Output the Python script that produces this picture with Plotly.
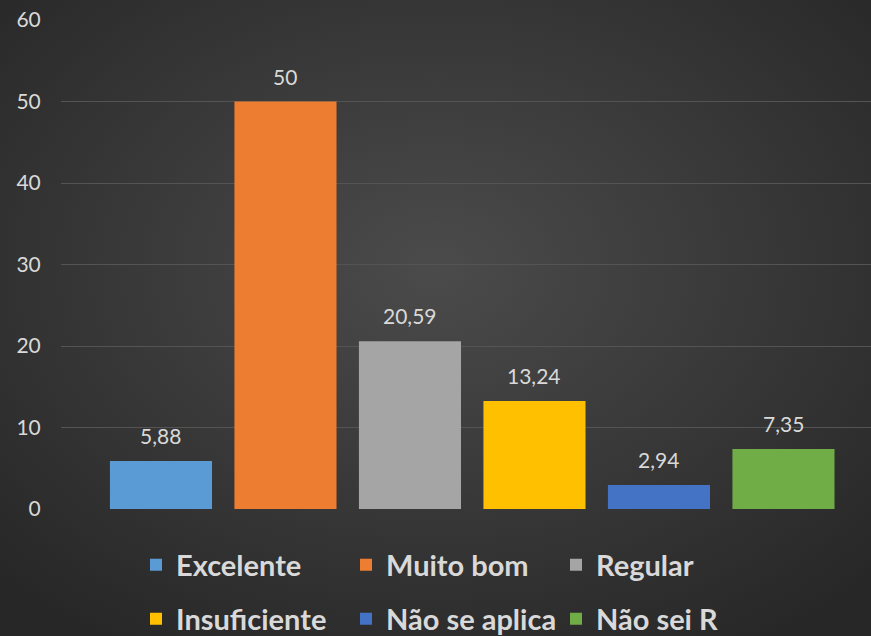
import base64
import plotly.graph_objects as go

categories = ["Excelente", "Muito bom", "Regular", "Insuficiente", "Não se aplica", "Não sei R"]
values = [5.88, 50, 20.59, 13.24, 2.94, 7.35]
colors = ["#5b9bd5", "#ed7d31", "#a5a5a5", "#ffc000", "#4472c4", "#70ad47"]
y_ticks = [0, 10, 20, 30, 40, 50, 60]

W, H = 871, 636
ML, MR, MT, MB = 61, 0, 20, 127
pw, ph = W - ML - MR, H - MT - MB

def fmt(v):
    s = f"{v:.2f}".rstrip("0").rstrip(".")
    return s.replace(".", ",")

fig = go.Figure()
for i, (c, v, col) in enumerate(zip(categories, values, colors)):
    fig.add_trace(go.Bar(
        x=[i], y=[v], name=c, width=0.82,
        marker=dict(color=col, line=dict(width=0)),
        legend="legend" if i < 3 else "legend2",
        hoverinfo="skip",
    ))
    fig.add_annotation(x=i, y=v, text=fmt(v), showarrow=False, yanchor="bottom",
                       yshift=11, font=dict(family="Lato", size=21, color="#d9d9d9"))

svg = f'''<svg xmlns="http://www.w3.org/2000/svg" width="{W}" height="{H}" viewBox="0 0 {W} {H}" preserveAspectRatio="none">
<defs><radialGradient id="g" cx="50%" cy="42%" r="70%">
<stop offset="0" stop-color="#4b4b4b"/><stop offset="1" stop-color="#272727"/></radialGradient></defs>
<rect width="{W}" height="{H}" fill="url(#g)"/></svg>'''
src = "data:image/svg+xml;base64," + base64.b64encode(svg.encode()).decode()

fig.add_layout_image(dict(source=src, xref="paper", yref="paper",
                          x=-ML / pw, y=1 + MT / ph, sizex=W / pw, sizey=H / ph,
                          xanchor="left", yanchor="top", sizing="stretch", layer="below"))

legend_common = dict(orientation="h", xanchor="left", yanchor="middle",
                     xref="container", yref="container",
                     font=dict(family="Lato", size=29, color="#d9d9d9", weight="bold"),
                     bgcolor="rgba(0,0,0,0)", entrywidth=165, entrywidthmode="pixels",
                     itemwidth=30, traceorder="normal")

fig.update_layout(
    width=W, height=H,
    margin=dict(l=ML, r=MR, t=MT, b=MB, autoexpand=False),
    paper_bgcolor="#2e2e2e", plot_bgcolor="rgba(0,0,0,0)",
    barmode="overlay",
    showlegend=True,
    legend=dict(x=136 / W, y=1 - 565 / H, **legend_common),
    legend2=dict(x=136 / W, y=1 - 619 / H, **legend_common),
    xaxis=dict(range=[-0.803, 5.703], showticklabels=False, showgrid=False,
               zeroline=False, fixedrange=True),
    yaxis=dict(range=[0, 60], tickvals=y_ticks, showgrid=True, gridcolor="#545454",
               gridwidth=1, zeroline=False, ticks="outside", ticklen=15,
               tickcolor="rgba(0,0,0,0)",
               tickfont=dict(family="Lato", size=21, color="#d9d9d9")),
)

fig.write_html("out.html", config={"displayModeBar": False},
               post_script="document.body.style.margin='0';")
